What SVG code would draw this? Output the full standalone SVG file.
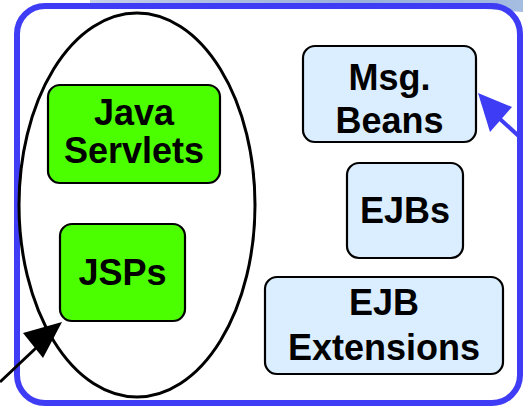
<svg xmlns="http://www.w3.org/2000/svg" width="523" height="409" viewBox="0 0 523 409">
<defs>
<linearGradient id="sky" x1="0" y1="0" x2="1" y2="0">
<stop offset="0" stop-color="#5a78c0" stop-opacity="0.35"/>
<stop offset="0.6" stop-color="#6f8fcc" stop-opacity="0.7"/>
<stop offset="1" stop-color="#9bb6dd" stop-opacity="0.9"/>
</linearGradient>
</defs>
<style>
.box{stroke:#000;stroke-width:2.2}
.green{fill:#4cff00}
.blue{fill:#dbeeff}
.lbl{font-family:"Liberation Sans",Arial,sans-serif;font-weight:bold;font-size:36px;text-anchor:middle;fill:#000}
</style>
<rect width="523" height="409" fill="#fff"/>
<path d="M90,0 L523,0 L523,12 Q470,7 400,6 L90,3 Z" fill="url(#sky)"/>
<g id="container">
<rect x="17" y="6" width="503" height="397" rx="28" fill="none" stroke="#3f3cf5" stroke-width="6"/>
</g>
<g id="web-tier">
<ellipse cx="137" cy="205" rx="118" ry="192" fill="none" stroke="#000" stroke-width="3"/>
</g>
<g id="java-servlets">
<rect class="box green" x="48" y="85" width="172" height="98" rx="12"/>
<text class="lbl" x="134" y="125">Java</text>
<text class="lbl" x="134" y="163">Servlets</text>
</g>
<g id="jsps">
<rect class="box green" x="60" y="224" width="125" height="97" rx="12"/>
<text class="lbl" x="122.500" y="285">JSPs</text>
</g>
<g id="msg-beans">
<rect class="box blue" x="303" y="46" width="173" height="96" rx="12"/>
<text class="lbl" x="389.500" y="90">Msg.</text>
<text class="lbl" x="389.500" y="133">Beans</text>
</g>
<g id="ejbs">
<rect class="box blue" x="347" y="163" width="116" height="95" rx="12"/>
<text class="lbl" x="405" y="223">EJBs</text>
</g>
<g id="ejb-extensions">
<rect class="box blue" x="265" y="277" width="238" height="97" rx="12"/>
<text class="lbl" x="384" y="315">EJB</text>
<text class="lbl" x="384" y="360">Extensions</text>
</g>
<g id="connectors">
<line x1="0" y1="382" x2="36" y2="348" stroke="#000" stroke-width="3"/>
<polygon points="62,322 23,333 43,358" fill="#000"/>
<line x1="523" y1="140" x2="500" y2="119" stroke="#3f3cf5" stroke-width="4"/>
<polygon points="478,93 512,107 490,132" fill="#3f3cf5"/>
</g>
</svg>
